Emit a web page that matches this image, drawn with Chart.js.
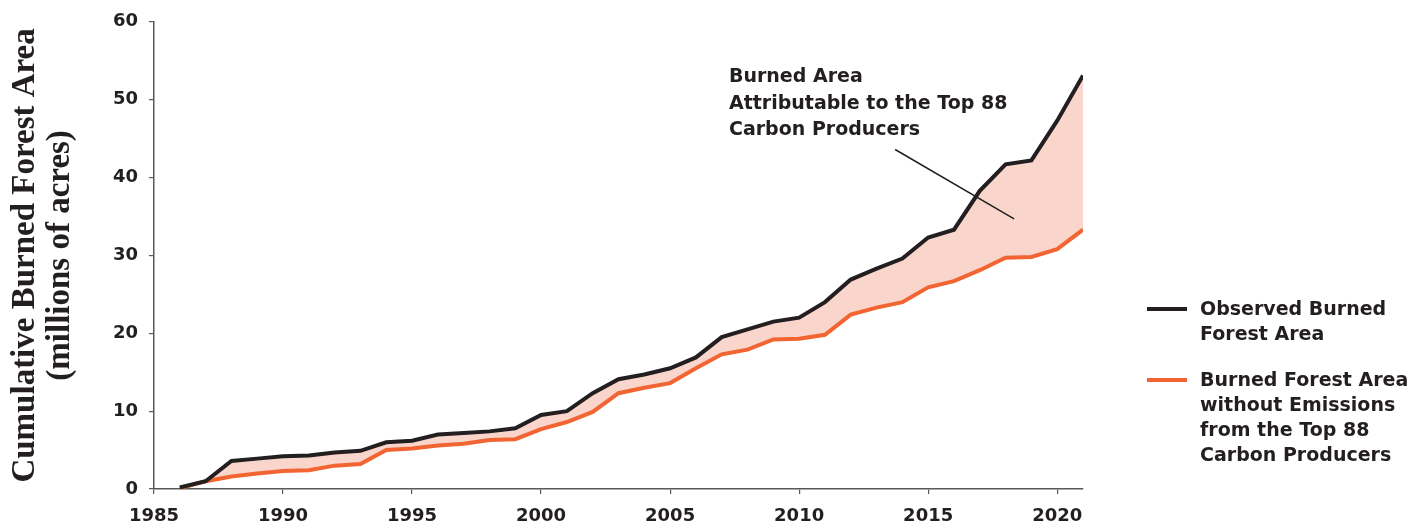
<!DOCTYPE html>
<html>
<head>
<meta charset="utf-8">
<script src="https://cdn.jsdelivr.net/npm/chart.js@4.4.1/dist/chart.umd.min.js"></script>
<style>
  body { margin: 0; background: #fff; }
  #wrap { width: 1426px; height: 527px; position: relative; }
</style>
</head>
<body>
<div id="wrap"><canvas id="burnChart"></canvas></div>
<script>
// -------- DATA --------
const years = [1986, 1987, 1988, 1989, 1990, 1991, 1992, 1993, 1994, 1995,
    1996, 1997, 1998, 1999, 2000, 2001, 2002, 2003, 2004, 2005,
    2006, 2007, 2008, 2009, 2010, 2011, 2012, 2013, 2014, 2015,
    2016, 2017, 2018, 2019, 2020, 2021];

const observed = [0.2, 1.0, 3.6, 3.9, 4.2, 4.3, 4.7, 4.9, 6.0, 6.2,
    7.0, 7.2, 7.4, 7.8, 9.5, 10.0, 12.3, 14.1, 14.7, 15.5,
    16.9, 19.5, 20.5, 21.5, 22.0, 24.0, 26.9, 28.3, 29.6, 32.3,
    33.3, 38.3, 41.7, 42.2, 47.3, 53.1];

const withoutTop88 = [0.1, 1.0, 1.6, 2.0, 2.3, 2.4, 3.0, 3.2, 5.0, 5.2,
    5.6, 5.8, 6.3, 6.4, 7.7, 8.6, 9.9, 12.3, 13.0, 13.6,
    15.5, 17.3, 17.9, 19.2, 19.3, 19.8, 22.4, 23.3, 24.0, 25.9,
    26.7, 28.1, 29.7, 29.8, 30.8, 33.3];

const xTicks = [1985, 1990, 1995, 2000, 2005, 2010, 2015, 2020];
const yTicks = [0, 10, 20, 30, 40, 50, 60];

const seriesLabels = [
    ["Observed Burned", "Forest Area"],
    ["Burned Forest Area", "without Emissions", "from the Top 88", "Carbon Producers"]
];

const annotationLines = ["Burned Area", "Attributable to the Top 88", "Carbon Producers"];

const yTitle = ["Cumulative Burned Forest Area", "(millions of acres)"];

const TEXT = "#231f20";
const BLACK = "#231f20";
const ORANGE = "#f26532";
const FILL = "#fad5cc";
const AXIS = "#595959";
const SANS = "'DejaVu Sans', sans-serif";

// -------- ANNOTATION + LEGEND --------
const extrasPlugin = {
    id: "extras",
    afterDatasetsDraw(chart) {
        const ctx = chart.ctx;
        const xs = chart.scales.x;
        const ys = chart.scales.y;

        // pointer line
        ctx.save();
        ctx.strokeStyle = BLACK;
        ctx.lineWidth = 1.5;
        ctx.beginPath();
        ctx.moveTo(xs.getPixelForValue(2013.72), ys.getPixelForValue(43.6));
        ctx.lineTo(xs.getPixelForValue(2018.33), ys.getPixelForValue(34.7));
        ctx.stroke();

        // annotation text
        ctx.fillStyle = TEXT;
        ctx.font = "bold 19px " + SANS;
        ctx.textBaseline = "middle";
        ctx.textAlign = "left";
        const ax = xs.getPixelForValue(2007.28);
        const ay = ys.getPixelForValue(52.85);
        annotationLines.forEach((t, i) => ctx.fillText(t, ax, ay + i * 26.5));

        // legend
        const colors = [BLACK, ORANGE];
        const startY = [310, 381];
        seriesLabels.forEach((lines, k) => {
            ctx.strokeStyle = colors[k];
            ctx.lineWidth = 4;
            ctx.beginPath();
            ctx.moveTo(1147, startY[k] - 1);
            ctx.lineTo(1187, startY[k] - 1);
            ctx.stroke();
            lines.forEach((t, i) => ctx.fillText(t, 1200, startY[k] + i * 25));
        });
        ctx.restore();
    }
};

// -------- CHART --------
const ctx = document.getElementById("burnChart").getContext("2d");

new Chart(ctx, {
    type: "line",
    data: {
        datasets: [{
            label: seriesLabels[0].join(" "),
            data: years.map((yr, i) => ({ x: yr, y: observed[i] })),
            borderColor: BLACK,
            backgroundColor: FILL,
            borderWidth: 4,
            fill: "+1",
            tension: 0,
            pointRadius: 0
        }, {
            label: seriesLabels[1].join(" "),
            data: years.map((yr, i) => ({ x: yr, y: withoutTop88[i] })),
            borderColor: ORANGE,
            borderWidth: 4,
            fill: false,
            tension: 0,
            pointRadius: 0
        }]
    },
    options: {
        responsive: true,
        maintainAspectRatio: false,
        animation: false,
        layout: { padding: { left: 8, right: 343, top: 18, bottom: 1 } },
        scales: {
            x: {
                type: "linear",
                min: 1985,
                max: 2021,
                afterBuildTicks: scale => {
                    scale.ticks = xTicks.map(v => ({ value: v }));
                },
                afterFit: scale => { scale.height = 37; },
                ticks: {
                    color: TEXT,
                    font: { family: SANS, size: 18, weight: "bold" },
                    padding: 12,
                    maxRotation: 0,
                    autoSkip: false,
                    callback: v => String(v)
                },
                grid: { drawOnChartArea: false, tickLength: 5, color: AXIS, lineWidth: 1.2 },
                border: { color: AXIS, width: 1.5 }
            },
            y: {
                min: 0,
                max: 60,
                afterBuildTicks: scale => {
                    scale.ticks = yTicks.map(v => ({ value: v }));
                },
                afterFit: scale => { scale.width = 146; },
                ticks: {
                    color: TEXT,
                    font: { family: SANS, size: 18, weight: "bold" },
                    padding: 11
                },
                grid: { drawOnChartArea: false, tickLength: 5, color: AXIS, lineWidth: 1.2 },
                border: { color: AXIS, width: 1.5 },
                title: {
                    display: true,
                    text: yTitle,
                    color: TEXT,
                    font: { family: "'Liberation Serif', serif", size: 33, weight: "bold", lineHeight: 1.05 },
                    padding: { top: 0, bottom: 30 }
                }
            }
        },
        plugins: {
            legend: { display: false },
            tooltip: { enabled: false },
            filler: { drawTime: "beforeDatasetsDraw" }
        }
    },
    plugins: [extrasPlugin]
});
</script>
</body>
</html>
